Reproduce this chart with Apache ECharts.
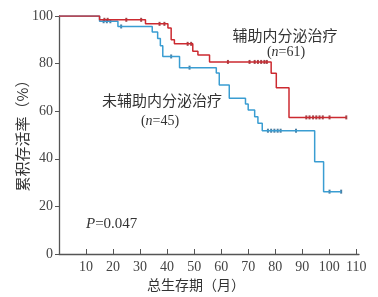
<!DOCTYPE html>
<html>
<head>
<meta charset="utf-8">
<script src="https://cdn.jsdelivr.net/npm/echarts@6/dist/echarts.min.js"></script>
<style>
  html, body { margin: 0; padding: 0; background: #fff; }
  #chart { width: 378px; height: 297px; }
</style>
</head>
<body>
<div id="chart"></div>
<script>
// 辅助内分泌治疗 (n=61)
var adjTimes = [0, 15, 32, 40.3, 41.5, 42.7, 49.5, 51.4, 55.7, 78.5, 80.4, 85.1, 106.3];
var adjSurv = [100, 98.4, 96.7, 95.0, 90.0, 88.3, 85.2, 83.6, 80.7, 75.9, 69.9, 57.4, 57.4];
var adjCensor = [16.8, 18, 24.9, 30.4, 37.2, 39, 47.6, 48.9, 62.5, 70.5, 72.4, 73.6, 74.8, 76, 76.9,
  91.5, 92.7, 94, 95.2, 96.4, 97.6, 100.1, 106.3];

// 未辅助内分泌治疗 (n=45)
var noTimes = [0, 15, 21.8, 34.5, 36.5, 37.5, 38.4, 44.6, 58.2, 59.3, 63, 69, 70, 72.4, 73.6, 75.2, 94.6, 97.9, 104.4];
var noSurv = [100, 97.8, 95.6, 93.3, 90.5, 87.5, 83.0, 78.3, 76.0, 71.0, 65.4, 63.0, 60.5, 57.7, 54.9, 51.8, 38.8, 26.2, 26.2];
var noCensor = [16.5, 17.7, 19, 23, 41.5, 48.3, 77.3, 78.5, 79.7, 80.9, 82, 87.7, 100.1, 104.4];

var xTicks = [10, 20, 30, 40, 50, 60, 70, 80, 90, 100, 110];
var yTicks = [0, 20, 40, 60, 80, 100];

function pairs(ts, vs) {
  return ts.map(function (t, i) { return [t, vs[i]]; });
}
// value of the step curve at time t
function survAt(ts, vs, t) {
  var v = vs[0];
  for (var i = 0; i < ts.length; i++) { if (ts[i] <= t) v = vs[i]; }
  return v;
}
function censorPts(cs, ts, vs) {
  return cs.map(function (t) { return [t, survAt(ts, vs, t)]; });
}

var chart = echarts.init(document.getElementById('chart'));
var serif = 'Liberation Serif';

var option = {
  animation: false,
  // axis runs a little past 110 so the 110 label is not the edge label
  grid: { left: 59, right: 19, top: 16, bottom: 43, outerBoundsMode: 'none' },
  xAxis: {
    type: 'value',
    min: 0,
    max: 111,
    axisLine: { lineStyle: { color: '#555', width: 1.3 } },
    axisTick: { inside: true, length: 5, customValues: xTicks, lineStyle: { color: '#555' } },
    axisLabel: {
      margin: 6,
      color: '#444',
      fontFamily: serif,
      fontSize: 14,
      customValues: xTicks,
      hideOverlap: false
    },
    splitLine: { show: false }
  },
  yAxis: {
    type: 'value',
    min: 0,
    max: 100,
    interval: 20,
    axisLine: { show: true, lineStyle: { color: '#555', width: 1.3 } },
    axisTick: { show: true, length: 4, customValues: yTicks, lineStyle: { color: '#555' } },
    axisLabel: {
      margin: 6,
      color: '#444',
      fontFamily: serif,
      fontSize: 14,
      customValues: yTicks
    },
    splitLine: { show: false }
  },
  series: [
    {
      name: '未辅助内分泌治疗',
      type: 'line',
      step: 'end',
      showSymbol: false,
      lineStyle: { color: '#3a9dd2', width: 1.5 },
      data: pairs(noTimes, noSurv)
    },
    {
      name: '辅助内分泌治疗',
      type: 'line',
      step: 'end',
      showSymbol: false,
      lineStyle: { color: '#cc2a30', width: 1.5 },
      data: pairs(adjTimes, adjSurv)
    },
    {
      type: 'scatter',
      symbol: 'rect',
      symbolSize: [2, 4],
      itemStyle: { color: '#1e5f8c' },
      data: censorPts(noCensor, noTimes, noSurv)
    },
    {
      type: 'scatter',
      symbol: 'rect',
      symbolSize: [2, 4],
      itemStyle: { color: '#8a1a20' },
      data: censorPts(adjCensor, adjTimes, adjSurv)
    }
  ],
  graphic: [
    {
      type: 'text', x: 285, y: 35,
      style: { text: '辅助内分泌治疗', font: '15px "Noto Sans CJK SC"', fill: '#333', align: 'center', verticalAlign: 'middle' }
    },
    {
      type: 'text', x: 286, y: 52,
      style: {
        text: '({i|n}=61)', align: 'center', verticalAlign: 'middle',
        font: '14px "Liberation Serif"', fill: '#333',
        rich: { i: { fontStyle: 'italic', fontFamily: serif, fontSize: 14, fill: '#333' } }
      }
    },
    {
      type: 'text', x: 162, y: 100,
      style: { text: '未辅助内分泌治疗', font: '15px "Noto Sans CJK SC"', fill: '#333', align: 'center', verticalAlign: 'middle' }
    },
    {
      type: 'text', x: 160, y: 121,
      style: {
        text: '({i|n}=45)', align: 'center', verticalAlign: 'middle',
        font: '14px "Liberation Serif"', fill: '#333',
        rich: { i: { fontStyle: 'italic', fontFamily: serif, fontSize: 14, fill: '#333' } }
      }
    },
    {
      type: 'text', x: 86, y: 224,
      style: {
        text: '{i|P}=0.047', align: 'left', verticalAlign: 'middle',
        font: '15px "Liberation Serif"', fill: '#333',
        rich: { i: { fontStyle: 'italic', fontFamily: serif, fontSize: 15, fill: '#333' } }
      }
    },
    {
      type: 'text', x: 196, y: 285,
      style: { text: '总生存期（月）', font: '14px "Noto Sans CJK SC"', fill: '#333', align: 'center', verticalAlign: 'middle' }
    },
    {
      type: 'text', x: 22, y: 132, rotation: Math.PI / 2,
      style: { text: '累积存活率（%）', font: '15px "Noto Sans CJK SC"', fill: '#333', align: 'center', verticalAlign: 'middle' }
    }
  ]
};

chart.setOption(option);
</script>
</body>
</html>
